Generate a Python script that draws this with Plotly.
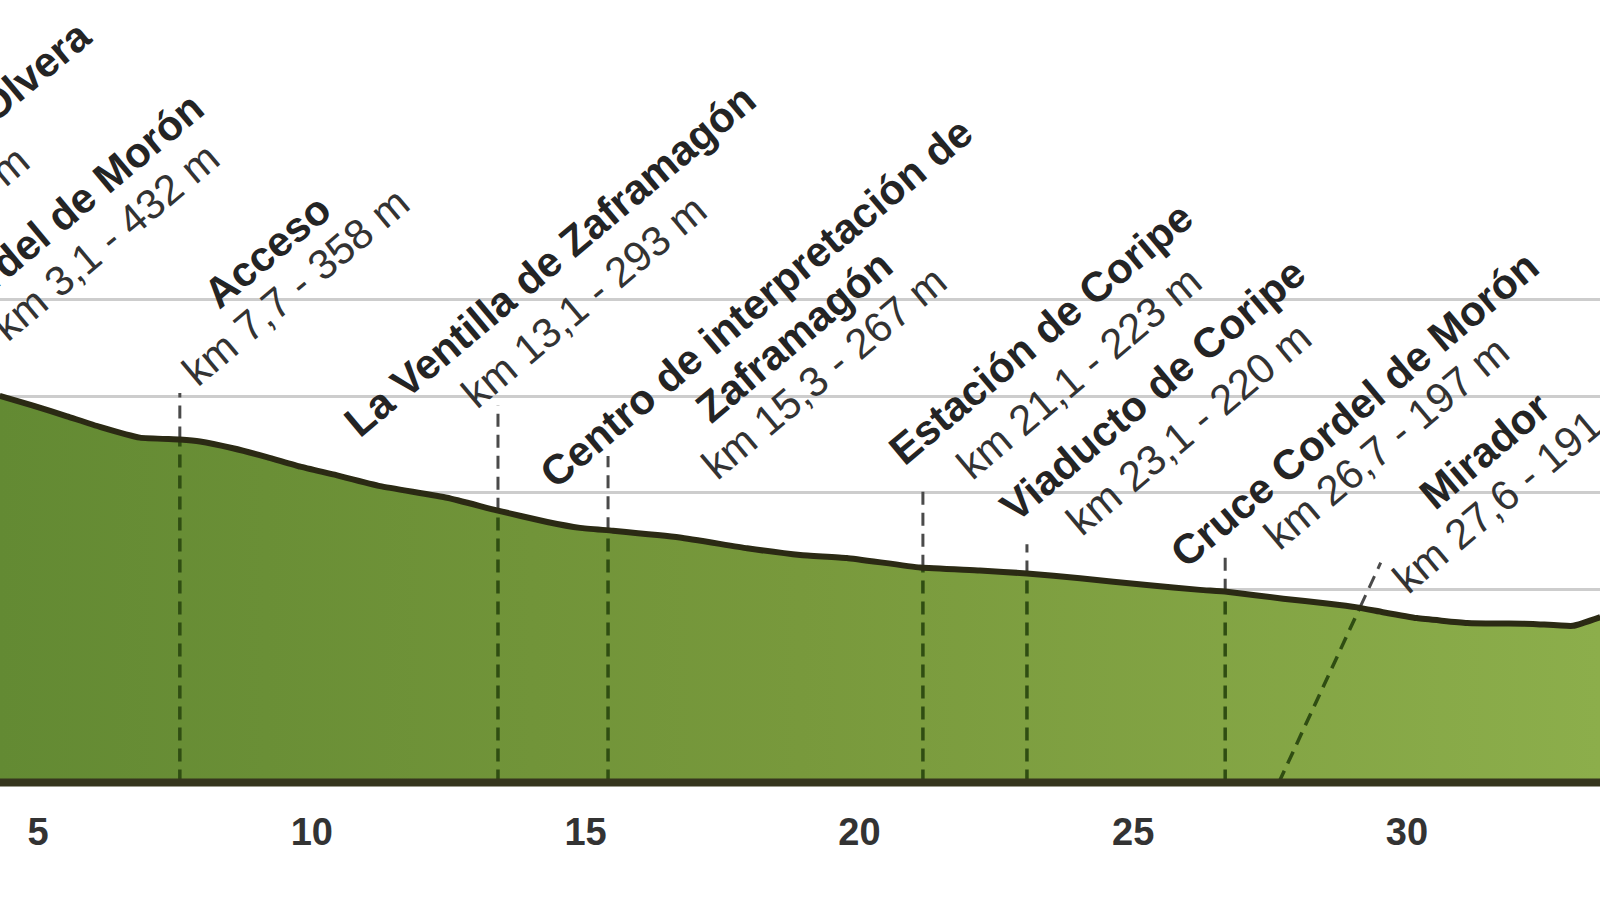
import numpy as np
import plotly.graph_objects as go

# ---------------- data ----------------
profile_km = [4.30, 4.91, 5.53, 6.13, 6.86, 7.59, 7.96, 8.56, 9.18, 9.79, 10.39,
              11.25, 12.47, 13.38, 14.30, 14.90, 15.50, 16.72, 17.95, 18.92, 19.77,
              21.11, 22.20, 23.06, 24.03, 25.25, 26.22, 26.71, 27.74, 28.54, 29.09,
              29.56, 30.18, 31.10, 32.30, 33.03, 33.53]
profile_elev = [400.2, 390.2, 379.1, 368.1, 357.0, 355.0, 353.0, 346.0, 336.9, 326.9, 318.9,
                306.8, 294.8, 281.7, 269.7, 263.6, 260.6, 253.6, 242.5, 235.5, 232.5,
                222.5, 219.5, 216.4, 211.4, 204.4, 199.4, 197.4, 190.3, 185.3, 181.3,
                176.3, 170.2, 165.2, 164.2, 162.2, 171.2]

# vertical marker lines (km on the drawing, top elevation of the dashed line)
marker_km = [7.59, 13.40, 15.41, 21.16, 23.06, 26.68]
marker_top = [403.2, 390.2, 337.9, 302.8, 246.6, 233.5]

# slanted marker for Mirador
mirador_km = [27.66, 29.52]
mirador_elev = [0, 227.5]

# point labels
label_titles = [["Estación de Olvera"], ["Cordel de Morón"], ["Acceso"],
                ["La Ventilla de Zaframagón"],
                ["Centro de interpretación de", "Zaframagón"],
                ["Estación de Coripe"], ["Viaducto de Coripe"],
                ["Cruce Cordel de Morón"], ["Mirador"]]
label_km = ["0", "3,1", "7,7", "13,1", "15,3", "21,1", "23,1", "26,7", "27,6"]
label_elev = ["520", "432", "358", "293", "267", "223", "220", "197", "191"]

x_ticks = [5, 10, 15, 20, 25, 30]
x_ticktext = [str(v) for v in x_ticks]
grid_vals = [100, 200, 300, 400, 500]

# ---------------- layout constants ----------------
X0, X1 = 4.306, 33.525
Y0, Y1 = -18.1, 810.0
FONT = "Liberation Sans, Arial, sans-serif"
ANGLE = -40
FS = 42

# centres of each text line (km, m)
label_pos = [
    [(3.21, 654.0), (3.01, 568.0)],
    [(5.584, 593.7), (6.242, 559.6)],
    [(9.182, 549.2), (9.711, 513.0)],
    [(14.350, 539.9), (14.962, 498.4)],
    [(18.121, 496.9), (18.797, 461.6), (19.353, 424.9)],
    [(23.316, 464.3), (24.010, 424.9)],
    [(25.362, 406.4), (26.019, 366.4)],
    [(29.032, 386.6), (29.635, 351.5)],
    [(31.424, 343.2), (31.972, 306.9)],
]

fig = go.Figure()

# elevation area
fig.add_trace(go.Scatter(
    x=profile_km, y=profile_elev, mode="lines", fill="tozeroy",
    fillgradient=dict(type="horizontal",
                      colorscale=[[0, "#638a33"], [0.5, "#78993c"], [1, "#8cae4b"]]),
    line=dict(color="rgba(0,0,0,0)", width=0), hoverinfo="skip", showlegend=False))

# marker dashed lines
dash = "13px,8px"
for km, top in zip(marker_km, marker_top):
    ground = float(np.interp(km, profile_km, profile_elev))
    fig.add_trace(go.Scatter(x=[km, km], y=[0, ground], mode="lines",
                             line=dict(color="#2f4d12", width=3.5, dash=dash),
                             hoverinfo="skip", showlegend=False))
    fig.add_trace(go.Scatter(x=[km, km], y=[ground, top], mode="lines",
                             line=dict(color="#4a4a4a", width=3, dash=dash),
                             hoverinfo="skip", showlegend=False))

# Mirador slanted marker
mk = np.linspace(mirador_km[0], mirador_km[1], 200)
me = np.interp(mk, mirador_km, mirador_elev)
ground_line = np.interp(mk, profile_km, profile_elev)
idx = int(np.argmax(me >= ground_line))
fig.add_trace(go.Scatter(x=[mirador_km[0], mk[idx]], y=[mirador_elev[0], me[idx]], mode="lines",
                         line=dict(color="#2f4d12", width=3.5, dash=dash),
                         hoverinfo="skip", showlegend=False))
fig.add_trace(go.Scatter(x=[mk[idx], mirador_km[1]], y=[me[idx], mirador_elev[1]], mode="lines",
                         line=dict(color="#4a4a4a", width=3, dash=dash),
                         hoverinfo="skip", showlegend=False))

# profile outline
fig.add_trace(go.Scatter(x=profile_km, y=profile_elev, mode="lines",
                         line=dict(color="#2b2a14", width=6, shape="spline", smoothing=0.4),
                         hoverinfo="skip", showlegend=False))

# baseline
fig.add_shape(type="line", xref="paper", yref="y", x0=0, x1=1, y0=0, y1=0,
              line=dict(color="#36361e", width=8), layer="above")

# labels
def kx(km):
    return (km - X0) / (X1 - X0)

for titles, kmt, elt, pos in zip(label_titles, label_km, label_elev, label_pos):
    lines = [("<b>%s</b>" % t, "#242424") for t in titles]
    lines.append(("km %s - %s m" % (kmt, elt), "#333333"))
    for (txt, col), (pk, pe) in zip(lines, pos):
        fig.add_annotation(x=kx(pk), y=pe, xref="paper", yref="y", text=txt,
                           textangle=ANGLE, showarrow=False,
                           xanchor="center", yanchor="middle",
                           font=dict(family=FONT, size=FS, color=col))

fig.update_layout(
    width=1600, height=900,
    margin=dict(l=0, r=0, t=0, b=100),
    paper_bgcolor="white", plot_bgcolor="white",
    xaxis=dict(range=[X0, X1], tickvals=x_ticks, ticktext=x_ticktext,
               showgrid=False, zeroline=False, showline=False, ticks="",
               ticklabelstandoff=6,
               tickfont=dict(family=FONT, size=38, color="#333333", weight="bold")),
    yaxis=dict(range=[Y0, Y1], tickvals=grid_vals, showticklabels=False,
               showgrid=True, gridcolor="#cdcdcd", gridwidth=2.5,
               zeroline=False, showline=False, ticks=""),
)

fig.write_html("out.html",
               config={"displayModeBar": False},
               post_script="document.body.style.margin='0';document.body.style.padding='0';"
                           "document.body.style.overflow='hidden';")
